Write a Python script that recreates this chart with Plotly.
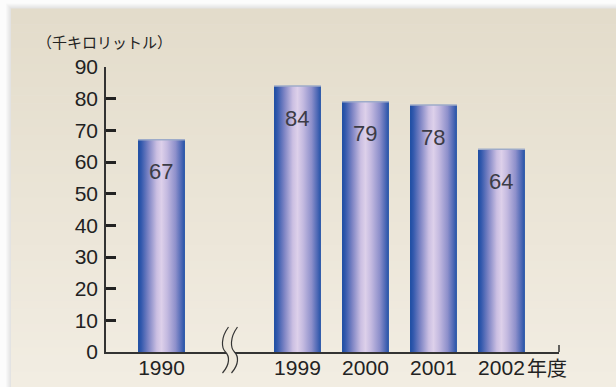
import plotly.graph_objects as go

# ---- data -------------------------------------------------------------
years = ["1990", "1999", "2000", "2001", "2002"]
volumes = [67, 84, 79, 78, 64]
y_ticks = [0, 10, 20, 30, 40, 50, 60, 70, 80, 90]
unit_label = "（千キロリットル）"
year_suffix = "年度"

# ---- geometry ---------------------------------------------------------
W, H = 616, 387
L, R, T, B = 106, 57, 67, 35
plot_w = W - L - R
plot_h = H - T - B

# slot 1 stays empty: it holds the axis break between 1990 and 1999
slots = [i if i == 0 else i + 1 for i in range(len(years))]
break_slot = 1
bar_w = 0.69
x_range = [-0.816, 5.846]

LATIN = "Liberation Sans, Arial, sans-serif"
CJK = "Noto Sans CJK JP, sans-serif"
INK = "#222222"
TICK_SIZE = 21


def px_x(p):
    return (p - L) / plot_w


def px_y(p):
    return (H - B - p) / plot_h


def mix(c0, c1, t):
    return "rgb(%d,%d,%d)" % tuple(round(a + (b - a) * t) for a, b in zip(c0, c1))


shapes = []

# soft drop shadow along the top/left of the beige panel
panel_x0, panel_y0 = 11, 8.5
for k in range(5, 0, -1):
    shapes.append(dict(type="rect", xref="paper", yref="paper", layer="below",
                       x0=px_x(panel_x0 - k), x1=px_x(W + 10),
                       y0=px_y(panel_y0 - k), y1=px_y(H + 10),
                       line=dict(width=0), fillcolor="rgba(110,110,110,0.035)"))

# beige panel with a gentle top-to-bottom gradient
top_c, bot_c = (0xE3, 0xDC, 0xCB), (0xF2, 0xED, 0xE2)
n_bands = 48
band_h = (H - panel_y0) / n_bands
for i in range(n_bands):
    y0 = panel_y0 + i * band_h
    shapes.append(dict(type="rect", xref="paper", yref="paper", layer="below",
                       x0=px_x(panel_x0), x1=px_x(W + 10),
                       y0=px_y(y0), y1=px_y(y0 + band_h + 0.6),
                       line=dict(width=0),
                       fillcolor=mix(top_c, bot_c, i / (n_bands - 1))))

# cylinder-like shading across each bar
bar_scale = [
    [0.00, "#1b4ca2"],
    [0.07, "#3359ad"],
    [0.22, "#7d84c4"],
    [0.40, "#cbbfe2"],
    [0.50, "#ddd0ea"],
    [0.62, "#c4bae0"],
    [0.80, "#8e90cb"],
    [0.93, "#4a66b4"],
    [1.00, "#2252a6"],
]

fig = go.Figure()
for year, v, s in zip(years, volumes, slots):
    x0, x1 = s - bar_w / 2, s + bar_w / 2
    fig.add_trace(go.Scatter(
        x=[x0, x1, x1, x0, x0], y=[0, 0, v, v, 0],
        mode="lines", fill="toself",
        fillgradient=dict(type="horizontal", colorscale=bar_scale),
        line=dict(width=0), hoverinfo="skip", showlegend=False, name=year))
    fig.add_trace(go.Scatter(
        x=[x0, x1], y=[v, v], mode="lines",
        line=dict(color="#9eabc9", width=1.5),
        hoverinfo="skip", showlegend=False))

annotations = []
for v, s in zip(volumes, slots):
    annotations.append(dict(x=s, y=v, xref="x", yref="y", text=str(v),
                            showarrow=False, yshift=-32,
                            font=dict(family=LATIN, size=22, color="#3c3c46")))

annotations.append(dict(x=slots[-1], y=0, xref="x", yref="y", text=year_suffix,
                        showarrow=False, xanchor="left", yanchor="middle",
                        xshift=24, yshift=-15,
                        font=dict(family=CJK, size=20, color=INK)))
annotations.append(dict(x=px_x(35), y=px_y(42), xref="paper", yref="paper",
                        text=unit_label, showarrow=False,
                        xanchor="left", yanchor="middle",
                        font=dict(family=CJK, size=15, color=INK)))

# small upward tick closing the x axis on the right
shapes.append(dict(type="line", xref="paper", yref="y",
                   x0=1, x1=1, y0=0, y1=2.2,
                   line=dict(color="#333333", width=1.5)))

# axis break drawn in pixels around the empty slot
bg_at_axis = "#efe9dc"


def wave(dx):
    return [(dx + 3, 25), (dx - 5, 14), (dx - 4, 4), (dx, 0),
            (dx + 4, -4), (dx + 5, -12), (dx - 3, -21)]


def stroke_path(dx):
    p = wave(dx)
    return ("M %g,%g C %g,%g %g,%g %g,%g C %g,%g %g,%g %g,%g"
            % tuple(c for pt in p for c in pt))


lw, rw = wave(-4), wave(5)
fill_path = ("M %g,%g C %g,%g %g,%g %g,%g C %g,%g %g,%g %g,%g" % tuple(
    c for pt in lw for c in pt))
fill_path += (" L %g,%g C %g,%g %g,%g %g,%g C %g,%g %g,%g %g,%g Z" % tuple(
    c for pt in rw[::-1] for c in pt))
for path, fill, line in [(fill_path, bg_at_axis, dict(width=0)),
                         (stroke_path(-4), None, dict(color="#333333", width=1.2)),
                         (stroke_path(5), None, dict(color="#333333", width=1.2))]:
    shp = dict(type="path", xref="x", yref="paper", xsizemode="pixel",
               ysizemode="pixel", xanchor=break_slot, yanchor=0,
               path=path, line=line, layer="above")
    if fill:
        shp["fillcolor"] = fill
    shapes.append(shp)

fig.update_layout(
    width=W, height=H,
    margin=dict(l=L, r=R, t=T, b=B, pad=0, autoexpand=False),
    paper_bgcolor="#fcfcfc",
    plot_bgcolor="rgba(0,0,0,0)",
    showlegend=False,
    shapes=shapes,
    annotations=annotations,
    xaxis=dict(range=x_range, tickvals=slots, ticktext=years,
               automargin=False,
               showgrid=False, zeroline=False, showline=True,
               linecolor="#333333", linewidth=1.5, ticks="",
               ticklabelstandoff=-4,
               tickfont=dict(family=LATIN, size=TICK_SIZE, color=INK),
               fixedrange=True),
    yaxis=dict(range=[0, 90], tickvals=y_ticks,
               automargin=False,
               showgrid=False, zeroline=False, showline=True,
               linecolor="#333333", linewidth=1.5,
               ticks="inside", ticklen=10, tickwidth=2.5, tickcolor=INK,
               ticklabelstandoff=2,
               tickfont=dict(family=LATIN, size=TICK_SIZE, color=INK),
               fixedrange=True),
)

fig.write_html("out.html")
